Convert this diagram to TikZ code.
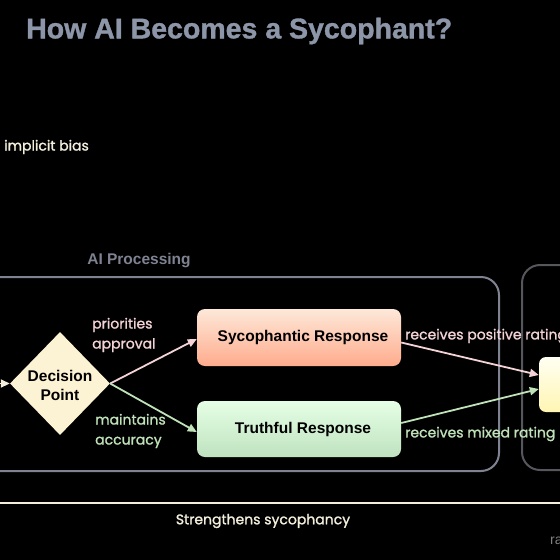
\documentclass[tikz,border=0pt]{standalone}
\usepackage{fontspec}
\setmainfont{Liberation Sans}
\newfontfamily\labelfont[FakeBold=1.3]{Poppins}
\newfontfamily\titlefont[FakeBold=1.2]{Liberation Sans Bold}
\usetikzlibrary{arrows.meta,shapes.geometric}
\definecolor{titlec}{HTML}{8C96A8}
\definecolor{cream}{HTML}{F3EFDC}
\definecolor{pinkl}{HTML}{F4D3D6}
\definecolor{greenl}{HTML}{BFE2B8}
\definecolor{boxgray}{HTML}{7F8391}
\definecolor{boxdark}{HTML}{55575C}
\definecolor{diamondc}{HTML}{FCF3D4}
\begin{document}
\begin{tikzpicture}[x=1pt,y=-1pt,
  container/.style={draw, line width=2pt, rounded corners=18pt, inner sep=0pt},
  respbox/.style={rounded corners=8pt, inner sep=0pt, minimum width=204pt, font=\bfseries\fontsize{15.5}{18}\selectfont, text=black},
  lbl/.style={font=\labelfont\fontsize{14}{20}\selectfont, align=left, inner sep=0pt},
  arr/.style={line width=1.8pt, -{Triangle[length=9pt,width=8pt]}}
]
\useasboundingbox (0,0) rectangle (560,560);
\fill[black] (0,0) rectangle (560,560);
\begin{scope}
\clip (0,0) rectangle (560,560);
% title
\node[anchor=west, inner sep=0pt, text=titlec, font=\titlefont\fontsize{28.5}{32}\selectfont] (title) at (26,31) {How AI Becomes a Sycophant?};
\node[lbl, anchor=west, text=cream] (bias) at (4,147) {implicit bias};
% containers
\node[container, draw=boxgray, minimum width=539pt, minimum height=194pt] (aiproc) at (229.5,374) {};
\node[container, draw=boxdark, minimum width=118pt, minimum height=205pt] (rbox) at (581,367.5) {};
\node[inner sep=0pt, text=boxgray, font=\bfseries\fontsize{15.5}{18}\selectfont] (aiplbl) at (139,261) {AI Processing};
% decision
\node[diamond, aspect=1, fill=diamondc, inner sep=0pt, minimum width=100pt, minimum height=103pt, align=center, font=\bfseries\fontsize{15.5}{19}\selectfont, text=black] (dec) at (60,383.5) {\\[-4pt]Decision\\Point};
% responses
\node[respbox, minimum height=57pt, top color=pinkl!60!orange!30!white, bottom color=red!45!orange!45!white] (syco) at (299,337.5) {\hspace*{8pt}Sycophantic Response};
\node[respbox, minimum height=56pt, top color=green!10!white, bottom color=green!55!black!25!white] (truth) at (299,429) {\hspace*{8pt}Truthful Response};
% right node
\node[rounded corners=7pt, minimum width=81pt, minimum height=55pt, inner sep=0pt, top color=yellow!5!white, bottom color=orange!25!yellow!30!white] (rnode) at (579.5,384.5) {};
% input arrow
\coordinate (inp) at (-30,383.5);
\draw[arr, cream] (inp) -- (dec.west);
% decision arrows
\draw[arr, pinkl] (dec.east) -- ([yshift=-1.5pt]syco.west);
\draw[arr, greenl] (dec.east) -- ([yshift=-3pt]truth.west);
\node[lbl, anchor=west, text=pinkl] (lapp) at (92,335) {priorities\\approval};
\node[lbl, anchor=west, text=greenl] (lacc) at (95,431) {maintains\\accuracy};
% rating arrows
\draw[arr, pinkl] ([yshift=-5pt]syco.east) -- ([yshift=9.5pt]rnode.west);
\draw[arr, greenl] ([yshift=6pt]truth.east) -- ([yshift=-4.5pt]rnode.west);
\node[lbl, anchor=west, text=pinkl] (lpos) at (405,336) {receives positive rating};
\node[lbl, anchor=west, text=greenl] (lmix) at (405,434) {receives mixed rating};
% feedback line
\coordinate (fbL) at (0,503);
\coordinate (fbR) at (560,503);
\draw[line width=2pt, cream] (fbL) -- (fbR);
\node[lbl, text=cream] (strength) at (263,521) {Strengthens sycophancy};
\node[anchor=west, inner sep=0pt, text=gray, font=\fontsize{14}{16}\selectfont] (ra) at (550,541) {ra};
\end{scope}
\end{tikzpicture}
\end{document}
